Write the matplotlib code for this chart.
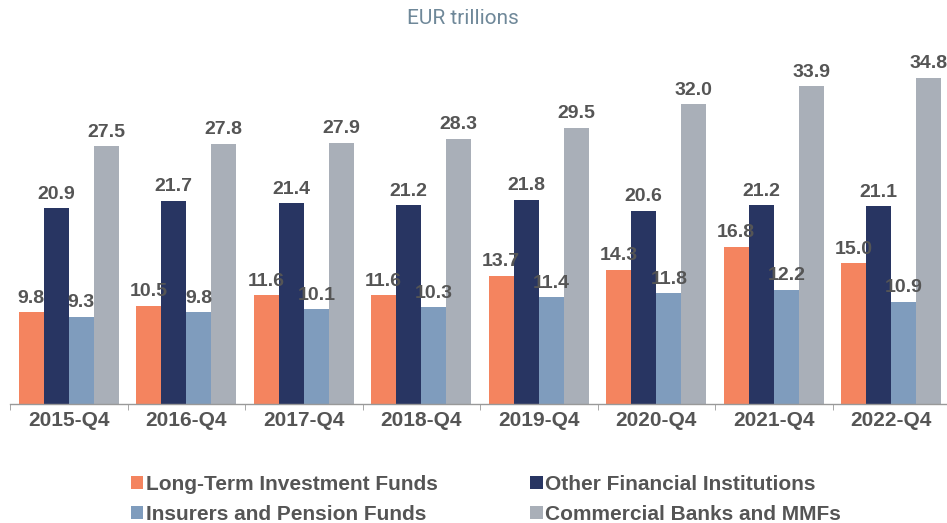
import matplotlib
matplotlib.use("Agg")
import matplotlib.pyplot as plt
import numpy as np
from matplotlib.patches import Patch

categories = ["2015-Q4", "2016-Q4", "2017-Q4", "2018-Q4", "2019-Q4", "2020-Q4", "2021-Q4", "2022-Q4"]
series_names = ["Long-Term Investment Funds", "Other Financial Institutions",
                "Insurers and Pension Funds", "Commercial Banks and MMFs"]
lt_funds = [9.8, 10.5, 11.6, 11.6, 13.7, 14.3, 16.8, 15.0]
other_fi = [20.9, 21.7, 21.4, 21.2, 21.8, 20.6, 21.2, 21.1]
insurers = [9.3, 9.8, 10.1, 10.3, 11.4, 11.8, 12.2, 10.9]
banks = [27.5, 27.8, 27.9, 28.3, 29.5, 32.0, 33.9, 34.8]
colors = ["#F4845F", "#283562", "#7F9CBD", "#A9AFB8"]

W, H = 947, 523
fig = plt.figure(figsize=(W / 100, H / 100), dpi=100)
ax = fig.add_axes([10 / W, 119 / H, 940 / W, 357 / H])

x = np.arange(len(categories))
bw = 0.213
label_color = "#555555"
for i, (vals, c) in enumerate(zip([lt_funds, other_fi, insurers, banks], colors)):
    pos = x + (i - 1.5) * bw
    ax.bar(pos, vals, width=bw, color=c, edgecolor="none")
    for p, v in zip(pos, vals):
        ax.annotate(f"{v:.1f}", (p, v), xytext=(0, 4), textcoords="offset points",
                    ha="center", va="bottom", fontsize=14, fontweight="bold",
                    color=label_color, family="Liberation Sans")

ax.set_xlim(-0.5, len(categories) - 0.5)
ax.set_ylim(0, 38.1)
for s in ["top", "right", "left"]:
    ax.spines[s].set_visible(False)
ax.spines["bottom"].set_color("#999999")
ax.spines["bottom"].set_linewidth(1.0)
ax.set_yticks([])
ax.set_xticks(x)
ax.set_xticklabels(categories, fontsize=15, fontweight="bold", color=label_color,
                   family="Liberation Sans")
ax.tick_params(axis="x", which="major", length=0, pad=5)
ax.set_xticks(np.arange(-0.5, len(categories), 1), minor=True)
ax.tick_params(axis="x", which="minor", length=4, color="#999999", direction="out")

fig.text(463 / W, 1 - 18 / H, "EUR trillions", ha="center", va="center",
         fontsize=15, color="#6F8899", family="Roboto")

handles = [Patch(facecolor=c, edgecolor="none") for c in colors]
order = [0, 2, 1, 3]
leg = fig.legend([handles[i] for i in order], [series_names[i] for i in order],
                 ncol=2, loc="upper left", bbox_to_anchor=(114 / W, 1 - 458 / H),
                 frameon=False, handlelength=0.6, handleheight=0.6, handletextpad=0.12,
                 columnspacing=4.45, labelspacing=0.55, borderpad=0.3,
                 prop={"family": "Liberation Sans", "weight": "bold", "size": 15})
for t in leg.get_texts():
    t.set_color(label_color)

fig.savefig("out.png", dpi=100)
